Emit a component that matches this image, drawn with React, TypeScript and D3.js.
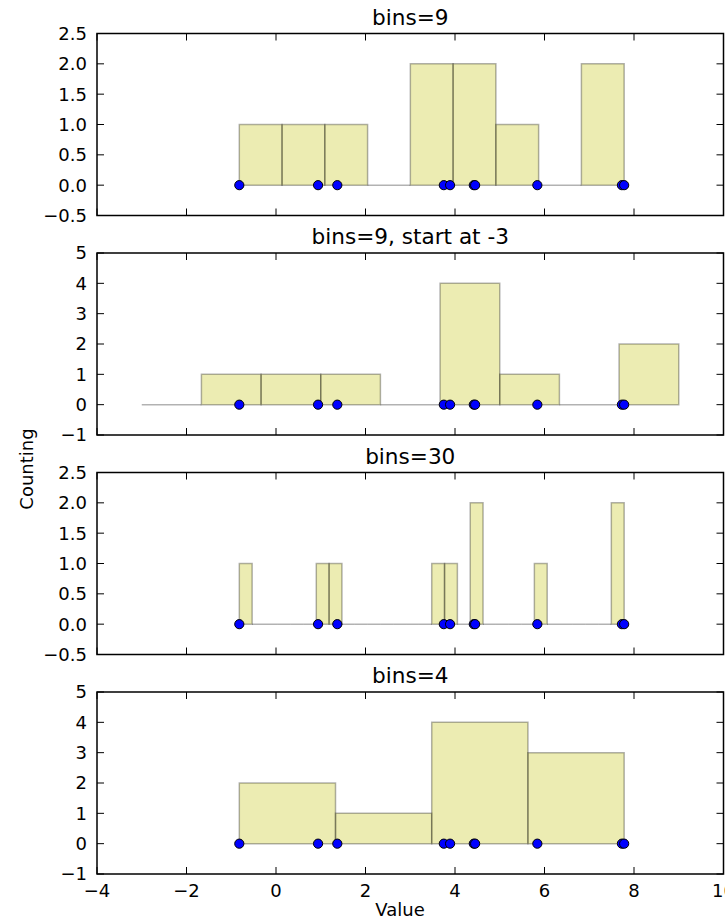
import React from "react";
import * as d3 from "d3";

// Observed values drawn as dots on every panel
const samples = [-0.82, 0.94, 1.37, 3.75, 3.89, 4.42, 4.45, 5.84, 7.73, 7.78];

// One histogram per panel
const panelTitles = ["bins=9", "bins=9, start at -3", "bins=30", "bins=4"];
const panelBinCounts = [9, 9, 30, 4];
const panelRangeStart: (number | null)[] = [null, -3, null, null];
const panelRangeEnd: (number | null)[] = [null, 9, null, null];
const panelYDomains: [number, number][] = [
  [-0.5, 2.5],
  [-1, 5],
  [-0.5, 2.5],
  [-1, 5],
];
const panelYTicks = [
  [-0.5, 0, 0.5, 1, 1.5, 2, 2.5],
  [-1, 0, 1, 2, 3, 4, 5],
  [-0.5, 0, 0.5, 1, 1.5, 2, 2.5],
  [-1, 0, 1, 2, 3, 4, 5],
];
const panelYFormats = [".1f", "d", ".1f", "d"];
const xDomain: [number, number] = [-4, 10];
const xTicks = [-4, -2, 0, 2, 4, 6, 8, 10];
const xLabel = "Value";
const yLabel = "Counting";

const W = 725;
const H = 920;
const LEFT = 97;
const RIGHT = 723.5;
const PANEL_TOPS = [33.5, 253, 472.5, 692];
const PANEL_H = 182;
const TICK = 7;
const FONT = "'DejaVu Sans', sans-serif";
const TICK_FS = 18;
const TITLE_FS = 21.6;

const x = d3.scaleLinear().domain(xDomain).range([LEFT, RIGHT]);

function histogram(i: number) {
  const [mn, mx] = d3.extent(samples) as [number, number];
  const lo = panelRangeStart[i] ?? mn;
  const hi = panelRangeEnd[i] ?? mx;
  const n = panelBinCounts[i];
  const thresholds = d3.range(1, n).map((k) => lo + (k * (hi - lo)) / n);
  return d3.bin<number, number>().domain([lo, hi]).thresholds(thresholds)(samples);
}

function Panel({ i }: { i: number }) {
  const top = PANEL_TOPS[i];
  const bottom = top + PANEL_H;
  const y = d3.scaleLinear().domain(panelYDomains[i]).range([bottom, top]);
  const bins = histogram(i);
  const fmt = d3.format(panelYFormats[i]);
  const isLast = i === PANEL_TOPS.length - 1;
  return (
    <g>
      <text
        x={(LEFT + RIGHT) / 2}
        y={top - 9}
        textAnchor="middle"
        fontFamily={FONT}
        fontSize={TITLE_FS}
        fill="#000"
      >
        {panelTitles[i]}
      </text>
      {bins.map((b, k) => {
        const x0 = x(b.x0 as number);
        const x1 = x(b.x1 as number);
        const y0 = y(0);
        const y1 = y(b.length);
        return (
          <path
            key={k}
            d={`M${x0},${y0}V${y1}H${x1}V${y0}Z`}
            fill="#bfbf00"
            fillOpacity={0.3}
            stroke="#000"
            strokeOpacity={0.3}
            strokeWidth={1.5}
          />
        );
      })}
      {samples.map((v, k) => (
        <circle
          key={k}
          cx={x(v)}
          cy={y(0)}
          r={4.6}
          fill="#0000ff"
          stroke="#000"
          strokeWidth={1}
        />
      ))}
      {xTicks.map((t) => (
        <g key={t}>
          <line x1={x(t)} x2={x(t)} y1={bottom} y2={bottom - TICK} stroke="#000" strokeWidth={1} />
          <line x1={x(t)} x2={x(t)} y1={top} y2={top + TICK} stroke="#000" strokeWidth={1} />
          {isLast && (
            <text
              x={x(t)}
              y={bottom + 23}
              textAnchor="middle"
              fontFamily={FONT}
              fontSize={TICK_FS}
              fill="#000"
            >
              {d3.format("d")(t)}
            </text>
          )}
        </g>
      ))}
      {panelYTicks[i].map((t) => (
        <g key={t}>
          <line x1={LEFT} x2={LEFT + TICK} y1={y(t)} y2={y(t)} stroke="#000" strokeWidth={1} />
          <line x1={RIGHT} x2={RIGHT - TICK} y1={y(t)} y2={y(t)} stroke="#000" strokeWidth={1} />
          <text
            x={LEFT - 10}
            y={y(t) + TICK_FS * 0.36}
            textAnchor="end"
            fontFamily={FONT}
            fontSize={TICK_FS}
            fill="#000"
          >
            {fmt(t)}
          </text>
        </g>
      ))}
      <rect
        x={LEFT}
        y={top}
        width={RIGHT - LEFT}
        height={PANEL_H}
        fill="none"
        stroke="#000"
        strokeWidth={1.5}
      />
    </g>
  );
}

export default function App() {
  return (
    <svg
      width={W}
      height={H}
      viewBox={`0 0 ${W} ${H}`}
      style={{ position: "absolute", left: 0, top: 0, background: "#fff" }}
    >
      <rect x={0} y={0} width={W} height={H} fill="#fff" />
      {PANEL_TOPS.map((_, i) => (
        <Panel key={i} i={i} />
      ))}
      <text
        x={400}
        y={916}
        textAnchor="middle"
        fontFamily={FONT}
        fontSize={18}
        fill="#000"
      >
        {xLabel}
      </text>
      <text
        transform="translate(33,469) rotate(-90)"
        textAnchor="middle"
        fontFamily={FONT}
        fontSize={18}
        fill="#000"
      >
        {yLabel}
      </text>
    </svg>
  );
}
